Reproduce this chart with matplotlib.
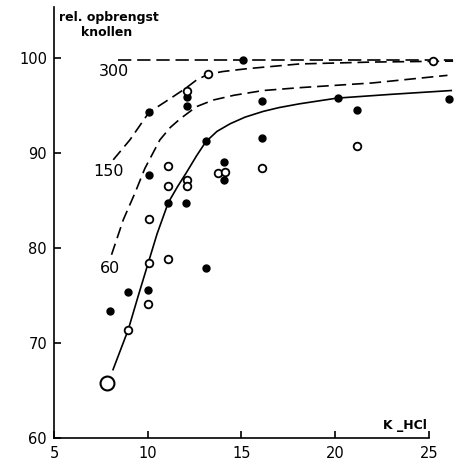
import matplotlib
matplotlib.use("Agg")
from matplotlib import pyplot as plt

# waarnemingen (K-HCl, rel. opbrengst knollen)
vol_x = [10.07, 12.1, 12.1, 15.1, 16.1, 20.15, 21.16, 26.1, 16.1, 13.09,
         14.08, 14.08, 10.07, 11.1, 12.04, 13.09, 8.96, 10.03, 7.99]
vol_y = [94.35, 95.9, 94.95, 99.8, 95.5, 95.8, 94.6, 95.7, 91.65, 91.3,
         89.1, 87.2, 87.7, 84.8, 84.8, 77.9, 75.4, 75.6, 73.4]

open_x = [12.1, 13.2, 25.2, 16.1, 21.16, 13.73, 14.12, 11.1, 12.08, 12.08,
          11.1, 10.05, 10.05, 11.1, 10.03, 8.96]
open_y = [96.6, 98.3, 99.7, 88.4, 90.8, 87.9, 88.0, 88.6, 87.2, 86.5,
          86.5, 83.1, 78.45, 78.9, 74.1, 71.4]

groot_x = [7.84]
groot_y = [65.8]

# curves
c0_x = [8.15, 8.96, 9.5, 10.03, 10.5, 11.1, 11.6, 12.08, 12.6, 13.1, 13.7,
        14.4, 15.2, 16.16, 17.0, 18.1, 20.1, 23.0, 26.2]
c0_y = [67.2, 71.4, 75.0, 78.45, 81.5, 84.8, 86.5, 88.0, 89.7, 91.2, 92.3,
        93.1, 93.8, 94.4, 94.8, 95.2, 95.8, 96.2, 96.6]

c60_x = [8.07, 8.7, 9.32, 9.85, 10.65, 11.2, 11.72, 12.6, 13.5, 14.6, 16.16,
         18.1, 22.0, 26.0]
c60_y = [79.3, 83.0, 85.8, 88.4, 91.4, 92.7, 93.6, 94.9, 95.6, 96.1, 96.6,
         96.9, 97.4, 98.2]

c150_x = [8.16, 9.05, 10.07, 11.2, 12.0, 12.6, 13.2, 14.0, 15.3, 18.1, 22.0, 26.3]
c150_y = [89.3, 91.4, 94.3, 95.75, 96.8, 97.7, 98.3, 98.6, 98.9, 99.4, 99.6, 99.7]

c300_x = [8.4, 26.3]
c300_y = [99.8, 99.8]

xticks = [5, 10, 15, 20, 25]
yticks = [60, 70, 80, 90, 100]

fig = plt.figure(figsize=(4.6, 4.66), dpi=100)
ax = fig.add_axes([0.1174, 0.0601, 0.8717, 0.9249])

ax.plot(c0_x, c0_y, color="black", lw=1.2)
ax.plot(c60_x, c60_y, color="black", lw=1.2, dashes=(7, 3.5))
ax.plot(c150_x, c150_y, color="black", lw=1.2, dashes=(7, 3.5))
ax.plot(c300_x, c300_y, color="black", lw=1.2, dashes=(8, 3.5))

ax.plot(vol_x, vol_y, "o", color="black", ms=5, zorder=3)
ax.plot(open_x, open_y, "o", mfc="white", mec="black", mew=1.3, ms=5.5, zorder=3)
ax.plot(groot_x, groot_y, "o", mfc="white", mec="black", mew=1.5, ms=10, zorder=3)

# labels bij de curves
ax.text(8.2, 98.6, "300", fontsize=11.5, ha="center", va="center")
ax.text(7.9, 88.1, "150", fontsize=11.5, ha="center", va="center")
ax.text(8.0, 77.9, "60", fontsize=11.5, ha="center", va="center")

ax.set_xlim(5, 26.4)
ax.set_ylim(60, 105.4)
ax.set_xticks(xticks)
ax.set_yticks(yticks)
ax.tick_params(direction="in", length=5, width=1.2, labelsize=10.5)
ax.tick_params(axis="x", pad=6)
ax.tick_params(axis="y", pad=5)

ax.spines["top"].set_visible(False)
ax.spines["right"].set_visible(False)
ax.spines["left"].set_linewidth(1.2)
ax.spines["bottom"].set_linewidth(1.2)
ax.spines["bottom"].set_bounds(5, 25)

fig.text(59 / 460, 1 - 17 / 466, "rel. opbrengst", fontsize=9, weight="bold",
         ha="left", va="center")
fig.text(81 / 460, 1 - 32 / 466, "knollen", fontsize=9, weight="bold",
         ha="left", va="center")
fig.text(427 / 460, 1 - 426 / 466, "K _HCl", fontsize=9, weight="bold",
         ha="right", va="center")

fig.savefig("out.png", dpi=100)
